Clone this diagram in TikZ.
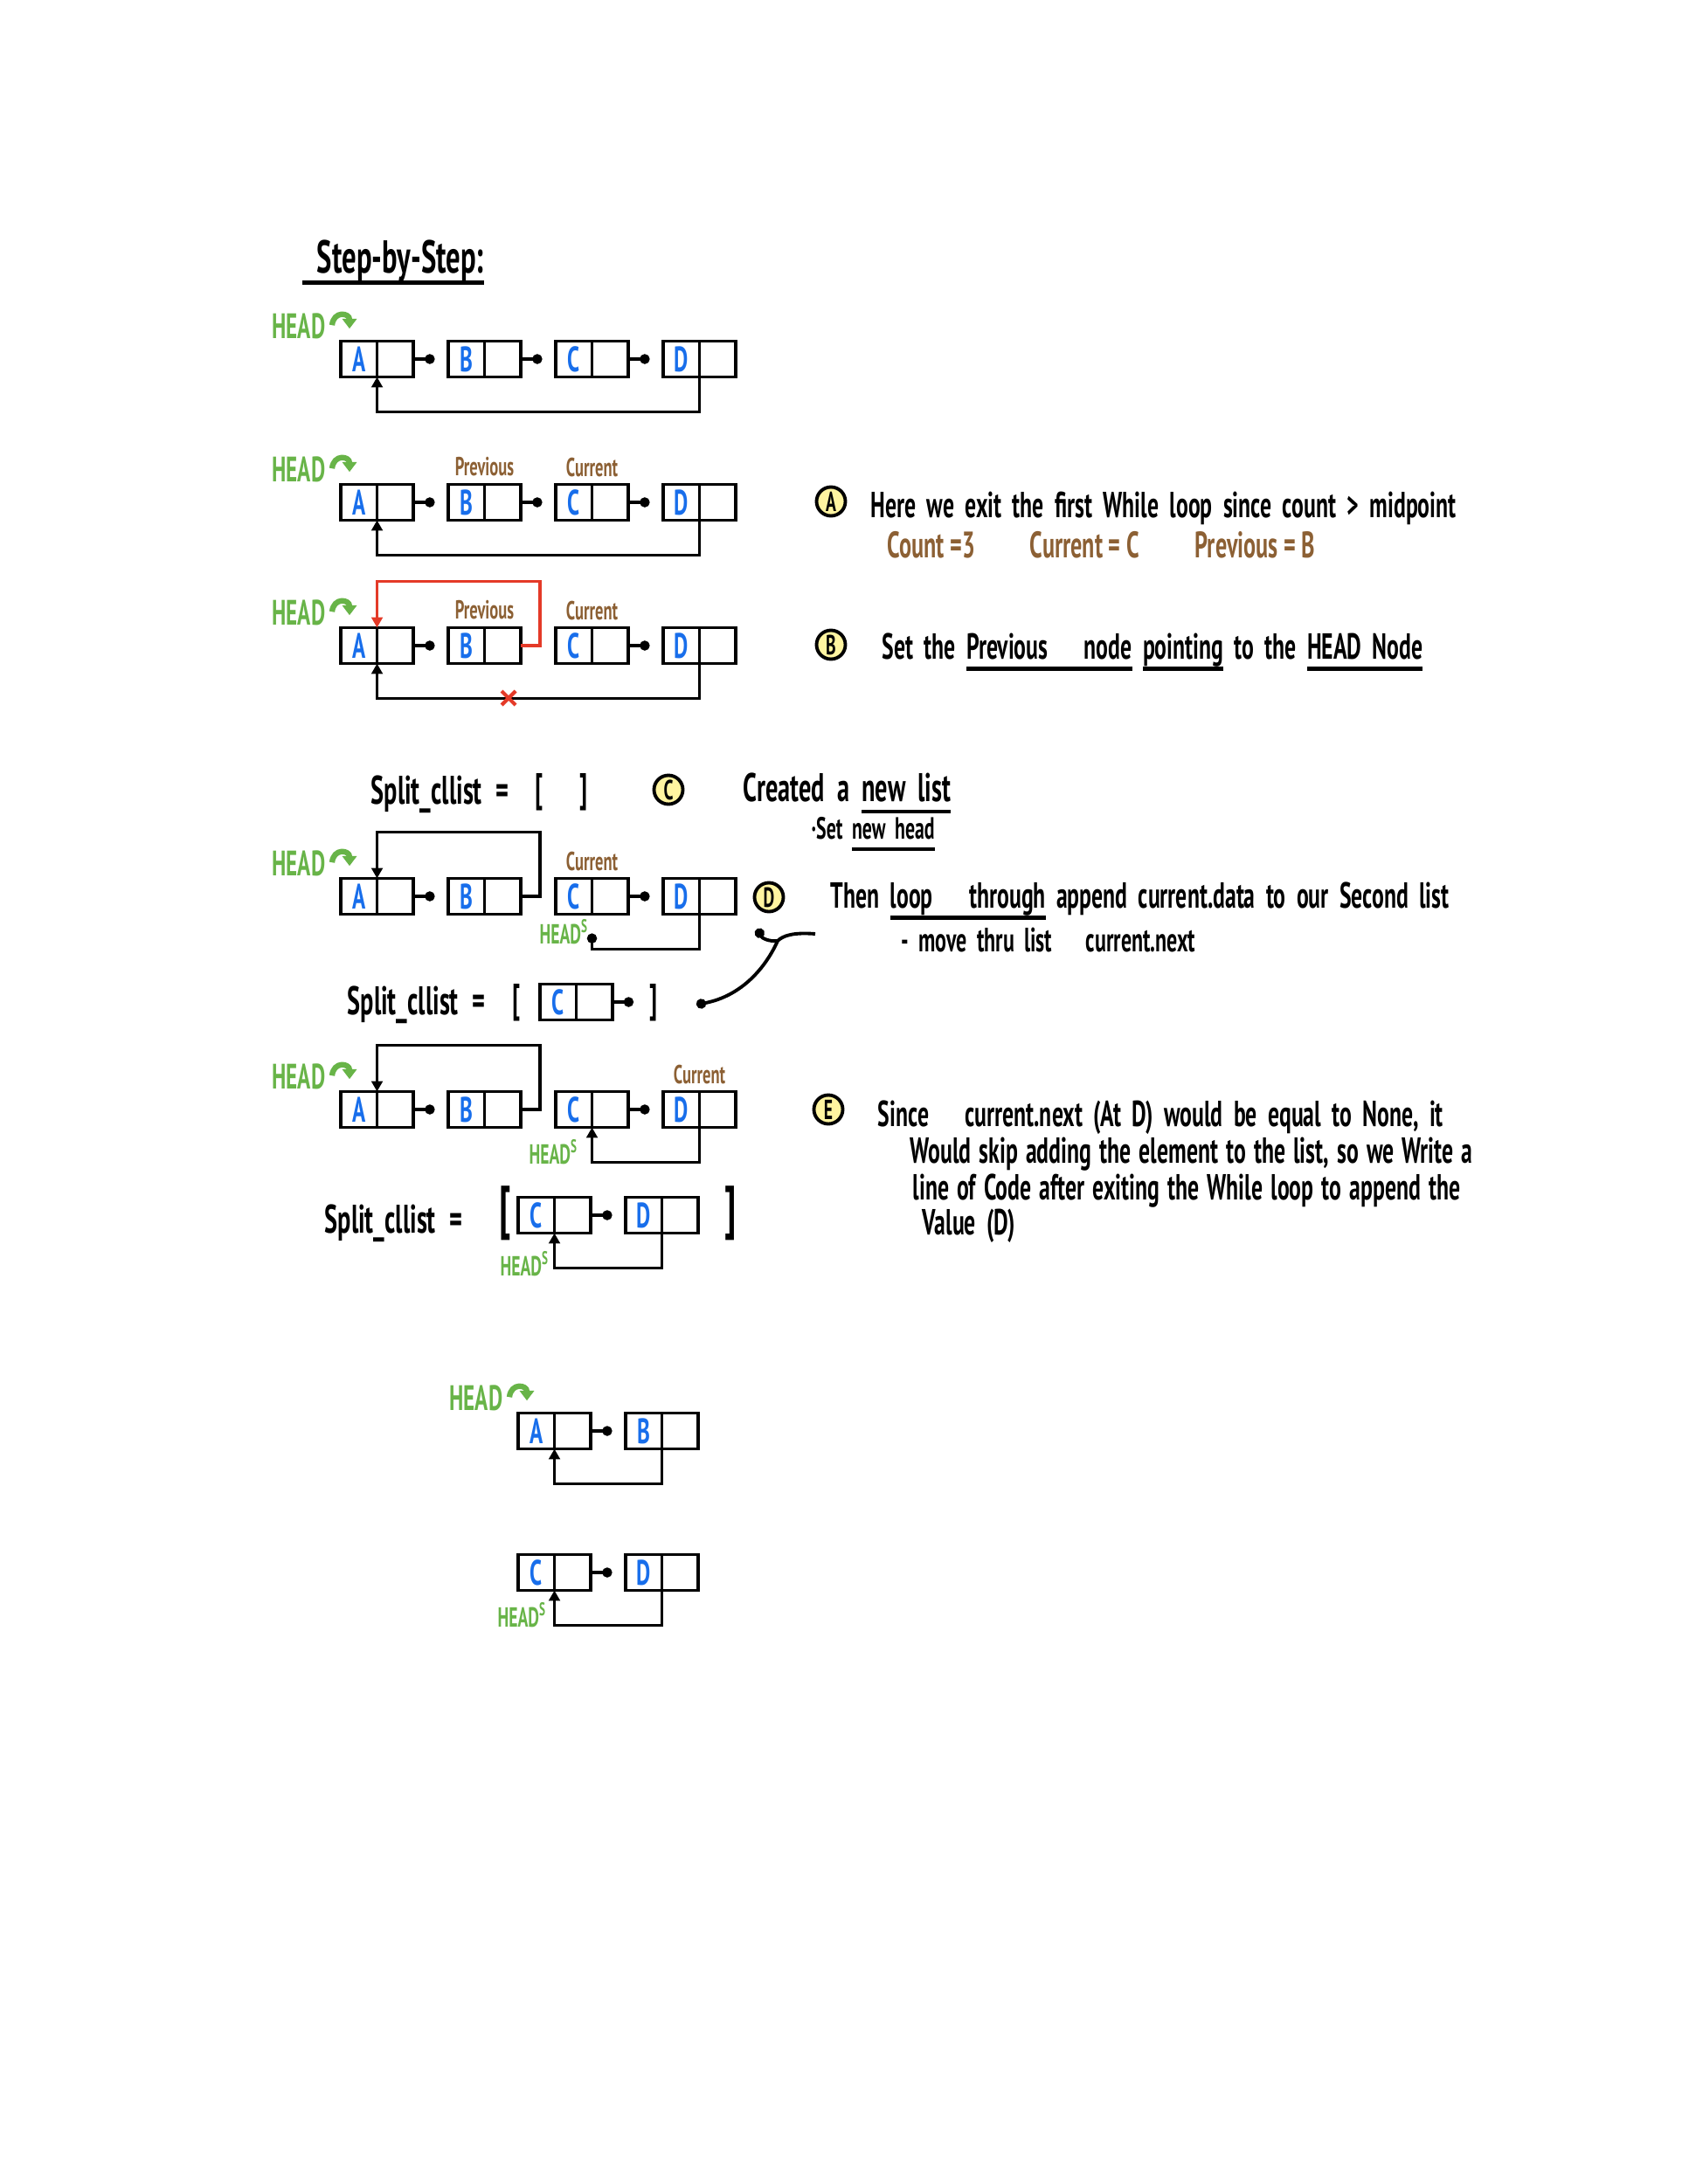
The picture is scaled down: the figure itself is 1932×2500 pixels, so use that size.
\documentclass[tikz,border=0pt]{standalone}
\usepackage{fontspec}
\usetikzlibrary{positioning,arrows.meta}
\newfontfamily\handfont[FakeStretch=0.62]{PT Sans}
\definecolor{headGreen}{RGB}{104,180,72}
\definecolor{dataBlue}{RGB}{24,110,235}
\definecolor{tagBrown}{RGB}{140,96,52}
\definecolor{linkRed}{RGB}{228,58,40}
\definecolor{markYellow}{RGB}{255,244,160}
\newcommand{\handLine}[1]{\setbox0\hbox{#1}\rlap{\rule[-3.8pt]{\wd0}{1.2pt}}\box0\relax}
\newcommand{\wideSpace}[1]{\spaceskip=#1 plus 1pt\relax}
\tikzstyle{dataCell} = [draw, line width=1.1pt, minimum width=0.415cm, minimum height=0.41cm, inner sep=0pt, outer sep=0pt, font=\handfont\bfseries\fontsize{11.5}{12}\selectfont, text=dataBlue]
\tikzstyle{ptrCell} = [draw, line width=1.1pt, minimum width=0.415cm, minimum height=0.41cm, inner sep=0pt, outer sep=0pt]
\tikzstyle{nextLine} = [line width=1.1pt, -{Circle[length=3.2pt]}, shorten >=4.4pt]
\tikzstyle{loopLine} = [line width=1.1pt, -{Triangle[length=3.4pt,width=3.6pt]}]
\tikzstyle{dotLine} = [line width=1.1pt, -{Circle[length=3.2pt]}]
\tikzstyle{redLine} = [line width=1.1pt, color=linkRed, -{Triangle[length=3.4pt,width=3.6pt]}]
\tikzstyle{curlArrow} = [line width=1.8pt, color=headGreen, -{Triangle[length=3.2pt,width=4.6pt]}]
\tikzstyle{headText} = [font=\handfont\bfseries\fontsize{11.5}{12}\selectfont, text=headGreen, inner sep=0pt]
\tikzstyle{headsText} = [font=\handfont\bfseries\fontsize{9}{10}\selectfont, text=headGreen, inner sep=0pt, anchor=north east]
\tikzstyle{tagText} = [font=\handfont\bfseries\fontsize{8.5}{9}\selectfont, text=tagBrown, inner sep=0pt]
\tikzstyle{brownText} = [font=\handfont\bfseries\fontsize{12}{14}\selectfont, text=tagBrown, inner sep=0pt, anchor=west]
\tikzstyle{noteText} = [font=\handfont\bfseries\fontsize{11.8}{13}\selectfont\wideSpace{3.5pt}, inner sep=0pt, anchor=west]
\tikzstyle{splitText} = [font=\handfont\bfseries\fontsize{13}{15}\selectfont, inner sep=0pt, anchor=west]
\tikzstyle{bracketText} = [font=\handfont\bfseries\fontsize{13}{15}\selectfont, inner sep=0pt]
\tikzstyle{titleText} = [font=\handfont\bfseries\fontsize{15}{17}\selectfont, inner sep=0pt]
\tikzstyle{stepMark} = [circle, draw, line width=1.1pt, fill=markYellow, minimum size=0.33cm, inner sep=0pt, font=\handfont\bfseries\fontsize{9}{10}\selectfont]
\newcommand{\listNode}[4]{\node[dataCell, anchor=west] (#1-d) at (#2,#3) {#4}; \node[ptrCell, right=0pt of #1-d] (#1-p) {};}
\newcommand{\fourList}[2]{
  \listNode{a#1}{390}{#2}{A}
  \listNode{b#1}{513}{#2}{B}
  \listNode{c#1}{636}{#2}{C}
  \listNode{d#1}{759}{#2}{D}
}
\newcommand{\nextLink}[2]{\draw[nextLine] (#1-p.east) -- (#2-d.west);}
\newcommand{\backLink}[2]{\draw[loopLine] (#1-p.south west) -- ++(0,40) -| (#2-p.south west);}
\newcommand{\headTag}[2]{
  \node[headText, anchor=south east] (#1) at ([xshift=-0.17cm, yshift=0.02cm]#2-d.north west) {HEAD};
  \draw[curlArrow] ([xshift=0.07cm, yshift=0.01cm]#1.east) .. controls +(0.02cm,0.17cm) and +(0cm,0.18cm) .. +(0.2cm,-0.04cm);
}

\begin{document}
\begin{tikzpicture}[x=0.01cm, y=-0.01cm]
\useasboundingbox (0,0) rectangle (1932,2500);
\node[titleText] (title) at (450,300) {\handLine{\ \ Step-by-Step:}};

\fourList{1}{411}
\nextLink{a1}{b1} \nextLink{b1}{c1} \nextLink{c1}{d1}
\backLink{d1}{a1}
\headTag{h1}{a1}

\fourList{2}{575}
\nextLink{a2}{b2} \nextLink{b2}{c2} \nextLink{c2}{d2}
\backLink{d2}{a2}
\headTag{h2}{a2}
\node[tagText, above=0.09cm of b2-d.north east] (prev2) {Previous};
\node[tagText, above=0.08cm of c2-d.north east] (cur2) {Current};

\fourList{3}{739}
\nextLink{a3}{b3} \nextLink{c3}{d3}
\backLink{d3}{a3}
\headTag{h3}{a3}
\node[tagText, above=0.09cm of b3-d.north east] (prev3) {Previous};
\node[tagText, above=0.08cm of c3-d.north east] (cur3) {Current};
\draw[redLine] (b3-p.east) -- ++(22,0) |- ([yshift=0.53cm]a3-p.north west) -- (a3-p.north west);
\draw[linkRed, line width=1.2pt] (574,791) -- (590,807) (574,807) -- (590,791);

\node[stepMark] (mA) at (951,574) {A};
\node[noteText] (noteA) at (996,582) {Here we exit the first While loop since count > midpoint};
\node[brownText] (countA) at (1015,624) {Count =3};
\node[brownText] (curA) at (1178,624) {Current = C};
\node[brownText] (prevA) at (1367,624) {Previous = B};

\node[stepMark] (mB) at (951,738) {B};
\node[noteText] (noteB) at (1009,746) {Set the \handLine{Previous\quad node} \handLine{pointing} to the \handLine{HEAD Node}};

\node[splitText] (splitC) at (424,909) {Split\_cllist\hspace{0.16cm}=};
\node[bracketText] (openC) at (617,907) {[};
\node[bracketText] (closeC) at (668,907) {]};
\node[stepMark] (mC) at (765,904) {C};
\node[noteText, font=\handfont\bfseries\fontsize{13}{15}\selectfont\wideSpace{4pt}] (noteC1) at (850,908) {Created a \handLine{new list}};
\node[noteText, font=\handfont\bfseries\fontsize{10}{12}\selectfont\wideSpace{3pt}] (noteC2) at (928,955) {·Set \handLine{new head}};

\fourList{4}{1026}
\nextLink{a4}{b4} \nextLink{c4}{d4}
\headTag{h4}{a4}
\node[tagText, above=0.08cm of c4-d.north east] (cur4) {Current};
\draw[loopLine] (b4-p.east) -- ++(22,0) |- ([yshift=0.53cm]a4-p.north west) -- (a4-p.north west);
\draw[dotLine] (d4-p.south west) -- ++(0,40) -| ([yshift=-0.22cm]c4-p.south west);
\node[headsText] (hs4) at ([xshift=-0.03cm, yshift=-0.05cm]c4-p.south west) {HEAD\textsuperscript{S}};

\node[stepMark] (mD) at (880,1027) {D};
\node[noteText] (noteD1) at (950,1031) {Then \handLine{loop\quad through} append current.data to our Second list};
\node[noteText, font=\handfont\bfseries\fontsize{11}{12}\selectfont\wideSpace{3.2pt}] (noteD2) at (1031,1076) {- move thru list\quad current.next};

\coordinate (bendR) at (933,1069);
\coordinate (bendJ) at (890,1077);
\coordinate (bendL) at (797,1150);
\coordinate (bendH) at (867,1063);
\draw[dotLine] (bendR) .. controls (908,1067) and (896,1071) .. (bendJ) .. controls (877,1106) and (850,1140) .. (bendL);
\draw[dotLine] (bendJ) .. controls (880,1078) and (872,1074) .. (bendH);

\node[splitText] (split5) at (397,1150) {Split\_cllist\hspace{0.16cm}=};
\node[bracketText] (open5) at (591,1148) {[};
\listNode{c5}{618}{1147}{C}
\draw[nextLine, shorten >=0pt] (c5-p.east) -- ++(24,0);
\node[bracketText] (close5) at (748,1148) {]};

\fourList{6}{1270}
\nextLink{a6}{b6} \nextLink{c6}{d6}
\headTag{h6}{a6}
\node[tagText, above=0.08cm of d6-d.north east] (cur6) {Current};
\draw[loopLine] (b6-p.east) -- ++(22,0) |- ([yshift=0.53cm]a6-p.north west) -- (a6-p.north west);
\backLink{d6}{c6}
\node[headsText] (hs6) at ([xshift=-0.15cm, yshift=-0.13cm]c6-p.south west) {HEAD\textsuperscript{S}};

\node[stepMark] (mE) at (948,1270) {E};
\node[noteText] (noteE1) at (1004,1279) {Since\quad current.next (At D) would be equal to None, it};
\node[noteText, font=\handfont\bfseries\fontsize{11.8}{13}\selectfont\wideSpace{2.6pt}] (noteE2) at (1041,1321) {Would skip adding the element to the list, so we Write a};
\node[noteText, font=\handfont\bfseries\fontsize{11.8}{13}\selectfont\wideSpace{2.6pt}] (noteE3) at (1044,1363) {line of Code after exiting the While loop to append the};
\node[noteText] (noteE4) at (1055,1403) {Value (D)};

\node[splitText] (split7) at (371,1400) {Split\_cllist\hspace{0.16cm}=};
\node[bracketText, font=\handfont\bfseries\fontsize{19}{21}\selectfont] (open7) at (578,1389) {[};
\listNode{c7}{593}{1391}{C}
\listNode{d7}{716}{1391}{D}
\nextLink{c7}{d7}
\backLink{d7}{c7}
\node[bracketText, font=\handfont\bfseries\fontsize{19}{21}\selectfont] (close7) at (836,1389) {]};
\node[headsText] (hs7) at ([xshift=-0.05cm, yshift=-0.2cm]c7-p.south west) {HEAD\textsuperscript{S}};

\listNode{a8}{593}{1638}{A}
\listNode{b8}{716}{1638}{B}
\nextLink{a8}{b8}
\backLink{b8}{a8}
\headTag{h8}{a8}

\listNode{c9}{593}{1800}{C}
\listNode{d9}{716}{1800}{D}
\nextLink{c9}{d9}
\backLink{d9}{c9}
\node[headsText] (hs9) at ([xshift=-0.08cm, yshift=-0.13cm]c9-p.south west) {HEAD\textsuperscript{S}};
\end{tikzpicture}
\end{document}
